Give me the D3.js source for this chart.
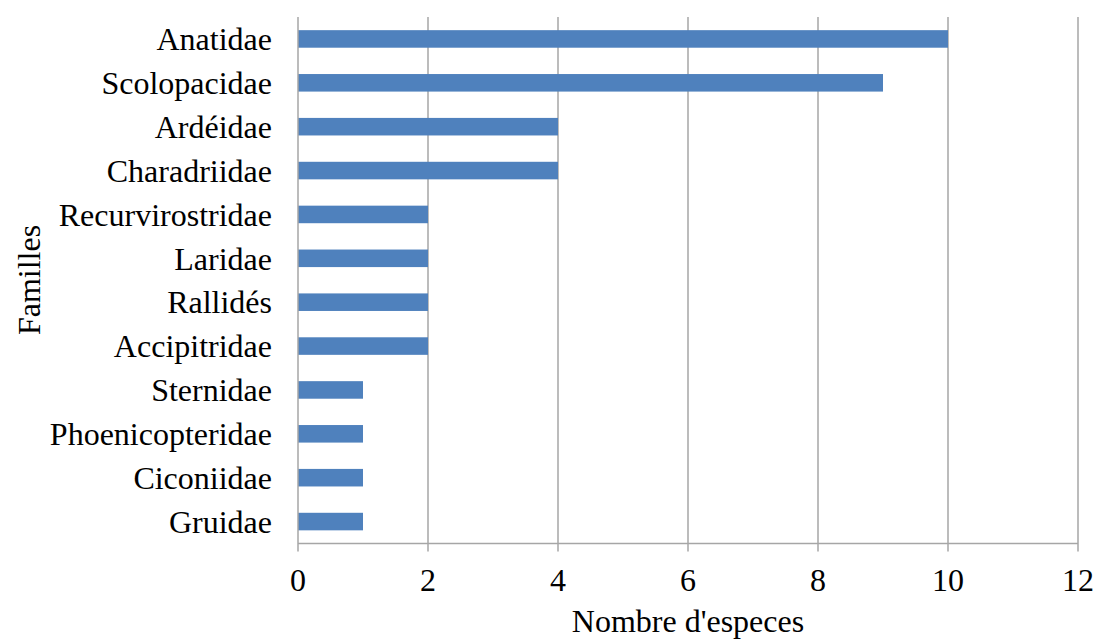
<!DOCTYPE html>
<html><head><meta charset="utf-8">
<script src="https://cdn.jsdelivr.net/npm/d3@7"></script>
<style>body{margin:0;background:#fff}svg{display:block}text{font-family:"Liberation Serif","Times New Roman",serif;fill:#000}</style>
</head><body>
<svg id="c" width="1097" height="641"></svg>
<script>
const categories = ["Anatidae","Scolopacidae","Ardéidae","Charadriidae","Recurvirostridae","Laridae","Rallidés","Accipitridae","Sternidae","Phoenicopteridae","Ciconiidae","Gruidae"];
const values = [10,9,4,4,2,2,2,2,1,1,1,1];
const xTicks = [0,2,4,6,8,10,12];

(function(){
const svg = d3.select("#c");
const pL = 298, pR = 1078, pT = 17, pB = 543.5;
const fs = 32;
const x = d3.scaleLinear().domain([0,12]).range([pL,pR]);
const y = d3.scaleBand().domain(categories).range([pT,pB]).paddingInner(0.6).paddingOuter(0.3);
const grid = "#a6a6a6";

svg.append("g").selectAll("line").data(xTicks.slice(1)).join("line")
  .attr("x1",d=>x(d)).attr("x2",d=>x(d)).attr("y1",pT).attr("y2",pB+8)
  .attr("stroke",grid).attr("stroke-width",1.5);

svg.append("g").selectAll("rect").data(categories).join("rect")
  .attr("x",x(0)).attr("y",c=>y(c)).attr("height",y.bandwidth())
  .attr("width",(c,i)=>x(values[i])-x(0)).attr("fill","#4f81bd");

svg.append("line").attr("x1",pL).attr("x2",pR).attr("y1",pB).attr("y2",pB).attr("stroke",grid).attr("stroke-width",1.5);
svg.append("line").attr("x1",pL).attr("x2",pL).attr("y1",pT).attr("y2",pB+8).attr("stroke",grid).attr("stroke-width",1.5);

svg.append("g").selectAll("text").data(xTicks).join("text")
  .attr("x",d=>x(d)).attr("y",591).attr("text-anchor","middle").attr("font-size",fs).text(d=>d);

svg.append("g").selectAll("text").data(categories).join("text")
  .attr("x",272).attr("y",c=>y(c)+y.bandwidth()/2).attr("dy","0.35em")
  .attr("text-anchor","end").attr("font-size",fs).text(c=>c);

svg.append("text").attr("x",688).attr("y",632).attr("text-anchor","middle").attr("font-size",fs).text("Nombre d'especes");
svg.append("text").attr("transform","translate(40,280) rotate(-90)").attr("text-anchor","middle").attr("font-size",fs).text("Familles");
})();
</script>
</body></html>
